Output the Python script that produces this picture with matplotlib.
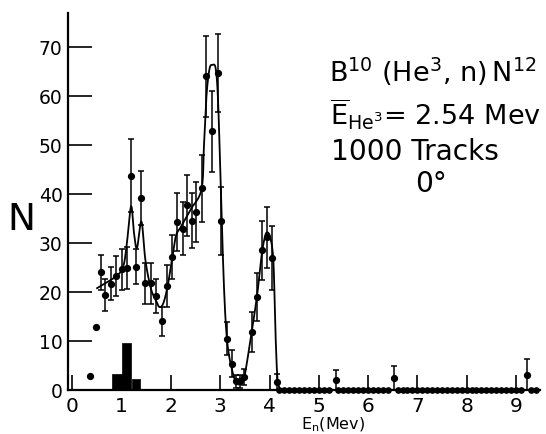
import matplotlib
matplotlib.use("Agg")
import matplotlib.pyplot as plt
import numpy as np

plt.rcParams['font.family'] = ['DejaVu Sans']
plt.rcParams['mathtext.fontset'] = 'dejavusans'

# Neutron counts per energy bin, with statistical error bars
energy = [0.57, 0.67, 0.79, 0.89, 1.00, 1.10, 1.19, 1.29, 1.40, 1.48,
          1.60, 1.70, 1.81, 1.92, 2.02, 2.12, 2.24, 2.32, 2.42, 2.51,
          2.63, 2.71, 2.84, 2.95, 3.02, 3.13, 3.23, 3.31, 3.40, 3.49,
          3.64, 3.75, 3.84, 3.94, 4.06, 4.15]
counts = [24.0, 19.4, 21.7, 23.2, 24.7, 24.9, 43.8, 25.2, 39.2, 21.8,
          21.8, 19.2, 14.0, 21.3, 27.1, 34.3, 32.9, 37.7, 34.6, 36.3,
          41.2, 64.1, 52.8, 64.7, 34.5, 10.5, 5.4, 1.8, 1.8, 2.6,
          11.9, 19.0, 28.5, 31.2, 26.9, 1.7]
errors = [3.6, 3.2, 3.4, 4.1, 4.2, 4.3, 7.5, 3.6, 5.5, 4.2,
          4.2, 3.4, 2.9, 4.3, 4.5, 5.9, 5.4, 6.3, 5.6, 6.1,
          6.8, 8.3, 8.2, 8.0, 6.9, 3.4, 2.7, 1.3, 1.3, 1.6,
          4.1, 4.9, 6.0, 6.2, 6.5, 1.6]

# Low-energy points drawn without error bars
energy_bare = [0.36, 0.48]
counts_bare = [2.8, 12.9]

# Isolated counts in the high-energy tail
energy_tail = [5.34, 6.53, 9.23]
counts_tail = [2.0, 2.4, 3.1]
errors_tail = [2.0, 2.4, 3.2]

# Empty bins above 4.2 Mev
energy_empty = [4.2, 4.3, 4.4, 4.5, 4.6, 4.7, 4.8, 4.9, 5.0, 5.1, 5.2,
                5.4, 5.5, 5.6, 5.7, 5.8, 5.9, 6.0, 6.1, 6.2, 6.3, 6.4,
                6.6, 6.7, 6.8, 6.9, 7.0, 7.1, 7.2, 7.3, 7.4, 7.5, 7.6,
                7.7, 7.8, 7.9, 8.0, 8.1, 8.2, 8.3, 8.4, 8.5, 8.6, 8.7,
                8.8, 8.9, 9.0, 9.1, 9.3, 9.4]

# Background histogram near 1 Mev
hist_left = [0.81, 1.00, 1.20]
hist_width = [0.19, 0.19, 0.18]
hist_height = [3.3, 9.5, 2.3]

# Guide-to-the-eye curve through the spectrum
curve_E = [0.50, 0.70, 0.90, 1.03, 1.10, 1.19, 1.25, 1.31, 1.40, 1.48,
           1.59, 1.69, 1.76, 1.84, 1.93, 2.03, 2.10, 2.20, 2.40, 2.62,
           2.67, 2.72, 2.78, 2.84, 2.91, 2.96, 3.02, 3.08, 3.14, 3.23,
           3.33, 3.43, 3.50, 3.64, 3.75, 3.84, 3.90, 3.95, 4.02, 4.08,
           4.12, 4.16, 4.21]
curve_N = [20.8, 22.0, 23.3, 25.2, 29.5, 37.5, 32.0, 29.0, 34.4, 26.6,
           20.8, 18.4, 17.0, 17.6, 21.1, 27.3, 31.5, 33.3, 36.9, 41.0,
           50.0, 60.0, 65.5, 66.4, 65.5, 58.0, 38.0, 20.0, 10.0, 4.5,
           1.4, 1.5, 3.2, 12.0, 19.5, 27.5, 31.0, 32.2, 31.0, 26.0,
           12.0, 2.5, 0.3]


def catmull_rom(xs, ys, samples=20):
    pts = np.column_stack([xs, ys]).astype(float)
    pts = np.vstack([pts[0], pts, pts[-1]])
    out = []
    t = np.linspace(0, 1, samples, endpoint=False)[:, None]
    for i in range(1, len(pts) - 2):
        p0, p1, p2, p3 = pts[i - 1], pts[i], pts[i + 1], pts[i + 2]
        seg = 0.5 * ((2 * p1) + (-p0 + p2) * t +
                     (2 * p0 - 5 * p1 + 4 * p2 - p3) * t ** 2 +
                     (-p0 + 3 * p1 - 3 * p2 + p3) * t ** 3)
        out.append(seg)
    out.append(pts[-2][None, :])
    out = np.vstack(out)
    return out[:, 0], out[:, 1]


W, H = 546, 434
fig = plt.figure(figsize=(W / 100, H / 100), dpi=100)
ax = fig.add_axes([68 / W, 44 / H, 472 / W, 377 / H])

ax.bar(hist_left, hist_height, width=hist_width, align='edge',
       color='black', edgecolor='black', linewidth=0.5, zorder=2)

cx, cy = catmull_rom(curve_E, curve_N)
ax.plot(cx, cy, color='black', lw=1.3, zorder=3)

ax.errorbar(energy, counts, yerr=errors, fmt='o', color='black',
            ms=4.2, elinewidth=1.1, capsize=2.5, capthick=1.1, zorder=4)
ax.errorbar(energy_tail, counts_tail, yerr=errors_tail, fmt='o',
            color='black', ms=4.2, elinewidth=1.1, capsize=2.5,
            capthick=1.1, zorder=4, clip_on=False)
ax.plot(energy_bare, counts_bare, 'o', color='black', ms=4.2, zorder=4)
ax.plot(energy_empty, [0] * len(energy_empty), 'o', color='black',
        ms=3.8, zorder=5, clip_on=False)

ax.set_xlim(-0.09, 9.49)
ax.set_ylim(0, 77)
for s in ('top', 'right'):
    ax.spines[s].set_visible(False)
for s in ('left', 'bottom'):
    ax.spines[s].set_linewidth(1.6)

ax.set_xticks(range(0, 10))
ax.set_yticks(range(0, 71, 10))
ax.tick_params(axis='x', direction='in', length=11, width=1.2,
               labelsize=14.5, pad=5)
ax.tick_params(axis='y', direction='in', length=17, width=1.2,
               labelsize=13.5, pad=4)

fig.text(21 / W, 1 - 230 / H, 'N', fontsize=27, ha='center',
         va='baseline')
fig.text(333 / W, 1 - 429 / H, r'E$_{\rm n}$(Mev)', fontsize=11.5,
         ha='center', va='baseline')

fig.text(329 / W, 1 - 82 / H, r'B$^{10}$ (He$^{3}$, n)$\,$N$^{12}$',
         fontsize=19.5, ha='left', va='baseline')
fig.text(330 / W, 1 - 125 / H,
         r'$\overline{\mathrm{E}}_{\mathrm{He}^{3}}$= 2.54 Mev',
         fontsize=19.5, ha='left', va='baseline')
fig.text(331 / W, 1 - 160 / H, '1000 Tracks', fontsize=20.2,
         ha='left', va='baseline')
fig.text(415 / W, 1 - 192 / H, '0°', fontsize=20.2, ha='left',
         va='baseline')

fig.savefig('out.png', dpi=100)
